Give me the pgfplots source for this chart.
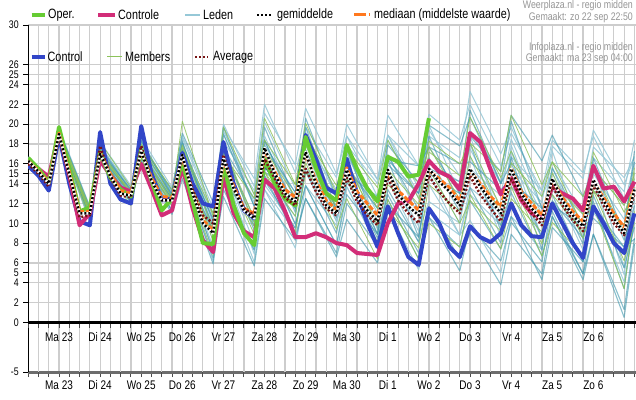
\documentclass[border=0pt]{standalone}
\usepackage{fontspec}
\setmainfont{Liberation Sans}[FakeStretch=0.8]
\usepackage{pgfplots}
\pgfplotsset{compat=1.18}
\usepackage{pgfplotstable}

\definecolor{oper}{RGB}{102,204,51}
\definecolor{ctrl}{RGB}{210,45,120}
\definecolor{cblue}{RGB}{50,70,200}
\definecolor{leden}{RGB}{150,200,215}
\definecolor{ledend}{RGB}{60,150,172}
\definecolor{memb}{RGB}{140,195,90}
\definecolor{med}{RGB}{255,120,30}
\definecolor{avg}{RGB}{120,20,20}
\definecolor{gridc}{RGB}{205,205,205}
\definecolor{hdr}{RGB}{150,150,150}

\newcommand\tickf{\fontsize{12.5}{14}\selectfont}
\newcommand\ytickf{\fontsize{11}{13}\selectfont}
\newcommand\legf{\fontsize{13.5}{15}\selectfont}
\newcommand\hdf{\fontsize{11}{12}\selectfont}

\pgfplotstableread{
x L1 L2 L3 L4 L5 L6 L7 L8 L9 L10 L11 L12 L13 L14 G1 G2 G3 G4 G5 G6 L15 L16 L17 L18 L19 L20
0 16.7 16.0 16.4 16.2 16.5 16.1 16.3 16.3 16.5 16.1 16.4 16.2 16.3 16.5 16.4 16.1 16.3 16.5 16.2 16.3 16.3 16.3 16.4 16.2 16.4 16.5
2 14.5 13.5 14.2 13.9 14.4 13.8 14.1 13.9 14.3 13.7 14.1 14.0 14.0 14.2 14.2 13.8 13.9 14.4 13.8 14.1 14.1 13.8 14.0 14.1 14.2 14.3
3 19.6 18.5 19.1 18.7 19.3 18.6 19.1 19.0 19.2 18.8 19.4 18.9 18.9 19.4 19.2 18.7 19.1 19.3 18.9 19.0 18.9 19.0 19.3 18.8 19.1 19.4
6 11.7 10.2 11.0 10.6 11.3 10.6 11.1 11.2 11.5 10.8 11.5 10.9 10.7 11.6 11.5 10.4 11.0 11.2 11.1 10.8 11.3 10.9 10.8 11.2 10.6 11.4
7 18.2 16.0 17.3 16.6 17.1 16.7 17.5 17.0 17.9 16.4 17.7 16.5 17.1 17.4 18.2 16.2 17.4 16.9 16.7 17.0 17.8 17.3 16.4 16.7 17.0 17.7
10 13.8 12.1 13.3 12.6 12.8 12.4 13.5 12.7 13.4 12.3 13.6 12.1 13.0 12.9 13.6 11.8 12.9 13.0 12.3 13.2 13.0 13.4 12.7 13.0 12.2 13.2
11 18.6 16.3 18.0 16.7 17.0 17.2 17.7 17.6 17.6 16.5 18.1 16.2 17.3 17.9 17.9 16.6 17.0 18.0 17.0 17.4 17.0 18.4 17.4 16.7 16.9 18.3
14 13.6 10.9 13.3 11.3 12.1 12.5 12.3 12.9 12.8 11.8 13.1 11.2 12.0 13.3 12.6 12.0 11.7 13.4 12.3 12.1 12.8 12.9 11.7 12.5 11.2 12.6
15 18.6 14.5 18.8 15.2 17.1 17.6 16.2 18.1 16.9 15.7 17.9 16.2 17.4 19.1 20.3 16.9 15.5 17.9 17.6 16.2 18.1 17.4 16.4 15.9 15.5 18.3
18 11.0 5.9 11.5 6.5 9.8 9.6 7.6 10.1 8.2 7.3 10.7 9.0 10.4 12.1 10.7 8.2 6.8 9.3 11.0 8.7 9.6 10.4 7.0 9.3 6.2 9.0
19 19.7 13.4 20.0 12.7 18.3 16.5 15.1 17.2 14.4 15.1 19.3 17.6 19.0 19.0 17.6 16.9 14.8 15.8 19.7 17.2 15.5 19.7 15.5 14.1 14.1 17.9
22 14.5 7.3 13.7 5.7 13.3 9.3 9.7 10.5 7.3 10.1 12.9 12.5 12.1 11.7 10.5 12.5 9.7 8.9 12.9 10.1 8.1 11.7 6.9 10.5 6.1 9.7
23 22.0 14.3 20.2 12.5 21.1 14.8 17.5 16.1 13.9 17.9 18.8 18.4 17.0 16.6 15.2 20.6 17.5 16.1 18.4 15.2 13.4 19.7 14.8 15.2 13.4 18.4
26 15.1 9.5 13.5 8.3 15.9 8.7 13.1 11.5 9.5 13.1 12.3 11.5 9.9 9.9 9.1 13.9 12.7 11.9 13.9 10.7 9.1 12.3 10.7 12.7 7.5 11.1
27 19.2 15.2 18.3 12.5 21.6 12.5 19.7 17.4 15.6 17.9 16.5 15.2 13.8 13.8 15.2 17.9 18.8 16.1 20.1 17.0 15.6 20.6 17.4 15.2 13.8 19.7
30 12.6 10.6 13.4 7.0 15.0 6.6 14.6 11.0 11.4 11.4 10.2 9.0 9.8 7.8 11.8 11.0 13.8 9.4 13.0 12.6 11.8 12.6 10.2 13.0 7.8 11.4
31 16.7 15.8 18.8 12.0 18.8 10.4 20.0 14.6 17.1 15.0 13.7 14.1 15.4 12.9 17.5 14.6 17.5 12.5 16.2 16.2 17.9 15.8 17.1 15.0 13.7 17.5
34 12.3 11.5 14.4 7.7 12.7 6.0 14.4 8.5 11.0 8.9 7.7 10.2 11.5 8.9 13.6 8.1 11.5 6.4 9.8 9.8 14.0 8.9 10.2 12.7 7.7 9.4
35 18.9 17.9 20.9 13.4 16.9 11.9 18.9 12.4 15.4 12.9 11.4 16.4 15.4 15.9 18.4 11.4 15.4 12.4 16.9 13.9 18.9 16.4 18.4 16.4 14.4 16.9
38 15.8 14.1 15.8 8.1 10.8 8.6 13.6 6.4 9.7 7.0 5.3 13.0 9.2 13.0 12.5 7.5 11.9 6.4 14.1 10.8 12.5 8.6 13.0 15.8 8.1 11.4
39 21.0 17.7 19.4 11.7 13.9 15.0 18.8 10.6 16.1 10.6 11.1 16.6 12.2 19.9 15.5 13.9 18.3 10.0 17.7 17.2 15.0 15.5 19.9 17.7 15.5 18.8
42 18.4 13.0 14.8 6.4 8.8 13.0 16.6 7.6 14.2 5.2 8.8 11.2 10.0 17.8 10.0 11.2 16.0 7.6 12.4 14.8 8.8 14.2 13.0 16.0 10.0 11.8
43 22.0 15.5 17.5 9.0 12.9 18.8 23.3 12.3 19.4 9.7 13.6 13.6 15.5 20.7 12.3 16.8 18.1 12.9 18.1 20.7 10.3 21.4 18.8 16.2 16.8 18.1
46 15.8 9.8 11.6 3.8 9.8 15.2 17.0 7.4 14.0 6.2 11.0 8.0 12.8 14.0 9.2 11.0 11.6 7.4 15.2 14.6 5.0 14.0 10.4 13.4 8.6 9.2
47 19.1 13.1 14.9 8.9 15.5 20.9 19.7 10.7 17.3 10.1 16.7 13.7 18.5 16.1 16.1 13.7 14.3 12.5 20.9 17.3 10.7 20.3 17.3 14.3 17.9 16.7
50 13.3 6.7 8.5 4.9 12.1 16.3 12.7 4.3 10.9 6.1 13.3 10.3 11.5 8.5 12.7 6.7 7.9 9.1 13.9 10.3 7.3 11.5 8.5 11.5 9.7 7.3
51 16.2 10.7 13.4 10.7 17.8 18.9 15.1 9.6 14.5 12.3 18.4 15.6 14.0 11.2 16.2 10.1 14.0 15.1 16.2 12.9 14.0 12.9 15.6 11.8 17.3 14.5
54 10.9 4.3 9.7 4.9 14.5 12.7 8.5 6.1 10.9 8.5 15.1 9.7 7.3 4.9 9.7 6.7 10.9 8.5 12.7 9.1 11.5 6.1 8.5 9.7 8.5 7.9
55 15.0 8.9 15.5 8.9 19.4 15.5 11.7 12.8 16.6 13.9 18.8 12.2 11.1 11.7 13.3 13.3 17.2 11.7 15.5 15.5 17.7 13.3 14.4 10.5 16.1 16.6
58 10.4 1.3 11.8 0.5 13.9 8.3 4.1 5.5 13.2 9.7 12.5 3.4 6.9 7.6 9.7 6.2 11.1 3.4 9.0 11.8 14.6 9.7 4.8 7.6 5.5 9.0
59 15.1 8.5 16.2 7.9 16.7 11.8 10.1 9.6 18.4 12.3 14.5 10.7 14.0 13.4 15.1 10.1 13.4 11.2 15.6 14.5 16.7 16.2 11.8 8.4 14.0 17.3
}\members

\pgfplotstableread{
x oper ctrl cb mean med avg
0 16.6 16.2 15.8 16.3 16.3 16.0
1 15.5 15.5 14.8 15.2 15.3 15.0
2 14.1 14.7 13.3 14.0 14.1 13.7
3 19.7 19.2 18.8 19.0 19.1 18.8
4 15.5 14.8 14.0 15.0 15.2 14.7
5 11.2 9.8 10.2 11.0 11.2 10.6
6 11.6 11.0 9.8 11.0 11.2 10.8
7 17.2 16.4 19.2 17.0 17.1 17.8
8 14.6 14.8 14.0 14.8 15.0 14.6
9 13.4 13.6 12.4 13.0 13.3 12.8
10 12.7 13.2 12.0 12.8 13.0 12.6
11 17.4 16.0 19.8 17.3 17.2 17.8
12 14.3 13.5 15.0 14.3 14.6 14.3
13 11.3 10.8 12.3 12.3 12.7 12.3
14 12.5 11.3 12.5 12.3 12.6 12.4
15 16.2 15.7 17.1 16.9 16.7 16.6
16 12.2 11.5 14.0 13.0 13.2 13.4
17 8.0 8.3 12.0 10.0 10.3 10.8
18 7.9 7.1 11.7 9.0 9.3 10.0
19 15.9 14.7 18.2 16.5 16.2 16.9
20 11.8 11.0 14.0 13.5 13.8 13.6
21 9.0 9.2 11.3 11.3 11.5 11.5
22 7.8 8.6 10.5 10.5 11.0 10.8
23 16.5 14.4 16.0 17.6 17.3 16.5
24 14.0 13.5 14.5 15.0 15.2 14.5
25 12.5 11.2 12.5 13.0 13.4 12.6
26 11.8 8.6 12.0 12.2 12.6 11.8
27 18.7 8.6 18.9 17.2 17.0 15.5
28 15.6 9.0 16.5 14.0 14.3 13.2
29 13.0 8.6 13.6 11.8 12.3 11.5
30 12.3 8.0 13.0 11.0 11.4 10.8
31 17.9 7.8 16.5 15.4 15.6 14.6
32 15.5 7.0 13.0 12.7 13.2 12.2
33 13.5 6.9 10.0 11.3 12.0 10.8
34 12.2 6.8 7.6 10.2 10.8 9.8
35 16.7 10.0 11.7 15.4 15.0 14.6
36 16.2 12.0 9.0 12.9 13.3 12.3
37 14.7 12.2 6.6 11.7 12.3 11.0
38 14.9 14.0 5.8 10.8 11.3 10.0
39 20.6 16.3 11.5 15.5 15.3 14.8
40 nan 15.2 10.0 14.2 14.5 13.2
41 nan 14.7 7.6 13.2 13.6 12.0
42 nan 13.4 6.6 11.8 12.3 11.0
43 nan 19.1 9.7 15.5 15.3 14.8
44 nan 18.2 8.6 13.7 14.0 12.9
45 nan 15.4 8.1 12.3 12.7 11.5
46 nan 12.9 9.0 11.0 11.7 10.2
47 nan 14.6 12.0 15.5 15.6 14.6
48 nan 12.3 9.8 13.0 13.2 12.4
49 nan 11.0 8.7 11.5 12.0 11.0
50 nan 10.5 8.6 10.3 10.8 9.8
51 nan 13.7 12.0 14.5 14.3 13.8
52 nan 13.0 10.0 12.3 12.6 11.8
53 nan 12.5 8.0 10.8 11.2 10.3
54 nan 11.3 6.5 9.7 10.2 9.2
55 nan 15.8 11.7 14.4 14.2 13.9
56 nan 13.5 10.0 12.3 12.6 11.8
57 nan 13.7 8.0 10.5 11.0 10.0
58 nan 12.2 7.0 9.0 9.6 8.8
59 nan 14.2 11.0 13.4 13.6 13.0
}\mainT

\begin{document}
\begin{tikzpicture}
\useasboundingbox (0,0) rectangle (636pt,399pt);
\fill[white] (0,0) rectangle (636pt,399pt);
\begin{axis}[
  at={(28.2pt,27pt)}, anchor=south west,
  x=10.275pt, y=9.914pt,
  xmin=0, xmax=59.15, ymin=-5, ymax=30,
  axis x line*=bottom, axis y line*=left,
  x axis line style={-, draw=gray!85!black, line width=3pt},
  y axis line style={-, draw=black, line width=1.3pt},
  ytick={-5,0,2,4,5,6,8,10,12,14,15,16,18,20,22,24,25,26,30},
  ymajorgrids, xmajorgrids,
  xtick={0,1,...,59},
  xticklabels={},
  x grid style={draw=gridc, line width=1.2pt},
  y grid style={draw=gridc, line width=1.2pt},
  extra x ticks={1,5,...,57},
  extra x tick labels={},
  extra x tick style={grid=major, major grid style={draw=black, line width=1.2pt}},
  tick align=outside,
  major tick length=5pt,
  xtick style={draw=gray!60!black, line width=1pt},
  ytick style={draw=black, line width=1pt},
  yticklabel style={font=\ytickf, xshift=-1pt},
  /pgf/number format/assume math mode=true,
  unbounded coords=jump,
  line join=round,
]
\pgfplotsinvokeforeach{0,...,59}{\draw[gray!60!black, line width=1pt] (axis cs:#1,0) -- (axis cs:#1,-0.6);}
\draw[black, line width=3pt] (axis cs:0,0) -- (axis cs:59.15,0);

% ensemble members (Weerplaza Leden)
\pgfplotsinvokeforeach{L1,L3,L5,L7,L9,L11,L13,L15,L17,L19}{
  \addplot[leden, line width=1pt, draw opacity=0.85] table[x=x,y=#1]{\members};}
\pgfplotsinvokeforeach{L2,L4,L6,L8,L10,L12,L14,L16,L18,L20}{
  \addplot[ledend, line width=1.1pt, draw opacity=0.6] table[x=x,y=#1]{\members};}
% Infoplaza members
\pgfplotsinvokeforeach{G1,G2,G3,G4,G5,G6}{
  \addplot[memb, line width=0.8pt, draw opacity=0.85] table[x=x,y=#1]{\members};}

% control runs
\addplot[cblue, line width=4pt] table[x=x,y=cb]{\mainT};
\addplot[ctrl, line width=4pt] table[x=x,y=ctrl]{\mainT};
\addplot[oper, line width=4pt] table[x=x,y=oper]{\mainT};

% statistics
\addplot[med, line width=3pt, dash pattern=on 5pt off 2pt] table[x=x,y=med]{\mainT};
\addplot[avg, line width=2.5pt, dash pattern=on 2pt off 2pt] table[x=x,y=avg]{\mainT};
\addplot[white, line width=2.5pt] table[x=x,y=mean]{\mainT};
\addplot[black, line width=2.5pt, dash pattern=on 2pt off 2pt] table[x=x,y=mean]{\mainT};
\end{axis}

% day labels (two rows), positioned on the same scale as the axis
\foreach \n/\lab in {0/Ma 23,1/Di 24,2/Wo 25,3/Do 26,4/Vr 27,5/Za 28,6/Zo 29,7/Ma 30,8/Di 1,9/Wo 2,10/Do 3,11/Vr 4,12/Za 5,13/Zo 6}{
  \node[font=\tickf] at ({28.2pt+(3+4*\n)*10.275pt},62pt) {\lab};
  \node[font=\tickf] at ({28.2pt+(3+4*\n)*10.275pt},14pt) {\lab};
}

% legend row 1
\draw[oper, line width=4pt] (31.7pt,384pt) -- (45pt,384pt);
\node[anchor=west, font=\legf, inner sep=0pt] at (48pt,384pt) {Oper.};
\draw[ctrl, line width=4pt] (98pt,384pt) -- (115pt,384pt);
\node[anchor=west, font=\legf, inner sep=0pt] at (118pt,384pt) {Controle};
\draw[leden, line width=2pt] (185pt,384pt) -- (200pt,384pt);
\node[anchor=west, font=\legf, inner sep=0pt] at (203pt,384pt) {Leden};
\draw[black, line width=2.5pt, dash pattern=on 2pt off 2pt] (257pt,384pt) -- (272pt,384pt);
\node[anchor=west, font=\legf, inner sep=0pt] at (277pt,384pt) {gemiddelde};
\draw[med, line width=3pt] (354pt,384pt) -- (366pt,384pt);
\draw[med, line width=3pt] (368.5pt,384pt) -- (370pt,384pt);
\node[anchor=west, font=\legf, inner sep=0pt] at (374pt,384pt) {mediaan (middelste waarde)};
% legend row 2
\draw[cblue, line width=4pt] (31.7pt,342pt) -- (45pt,342pt);
\node[anchor=west, font=\legf, inner sep=0pt] at (47.5pt,342pt) {Control};
\draw[memb, line width=1pt] (107pt,342pt) -- (122pt,342pt);
\node[anchor=west, font=\legf, inner sep=0pt] at (125pt,342pt) {Members};
\draw[avg, line width=2.5pt, dash pattern=on 2pt off 2pt] (195pt,342pt) -- (208pt,342pt);
\node[anchor=west, font=\legf, inner sep=0pt] at (213pt,342pt) {Average};
% headers
\node[anchor=east, font=\hdf, text=hdr, inner sep=0pt] at (633pt,393pt) {Weerplaza.nl - regio midden};
\node[anchor=east, font=\hdf, text=hdr, inner sep=0pt] at (633pt,381pt) {Gemaakt: zo 22 sep 22:50};
\node[anchor=east, font=\hdf, text=hdr, inner sep=0pt] at (633pt,351pt) {Infoplaza.nl - regio midden};
\node[anchor=east, font=\hdf, text=hdr, inner sep=0pt] at (633pt,340pt) {Gemaakt: ma 23 sep 04:00};
\end{tikzpicture}
\end{document}
